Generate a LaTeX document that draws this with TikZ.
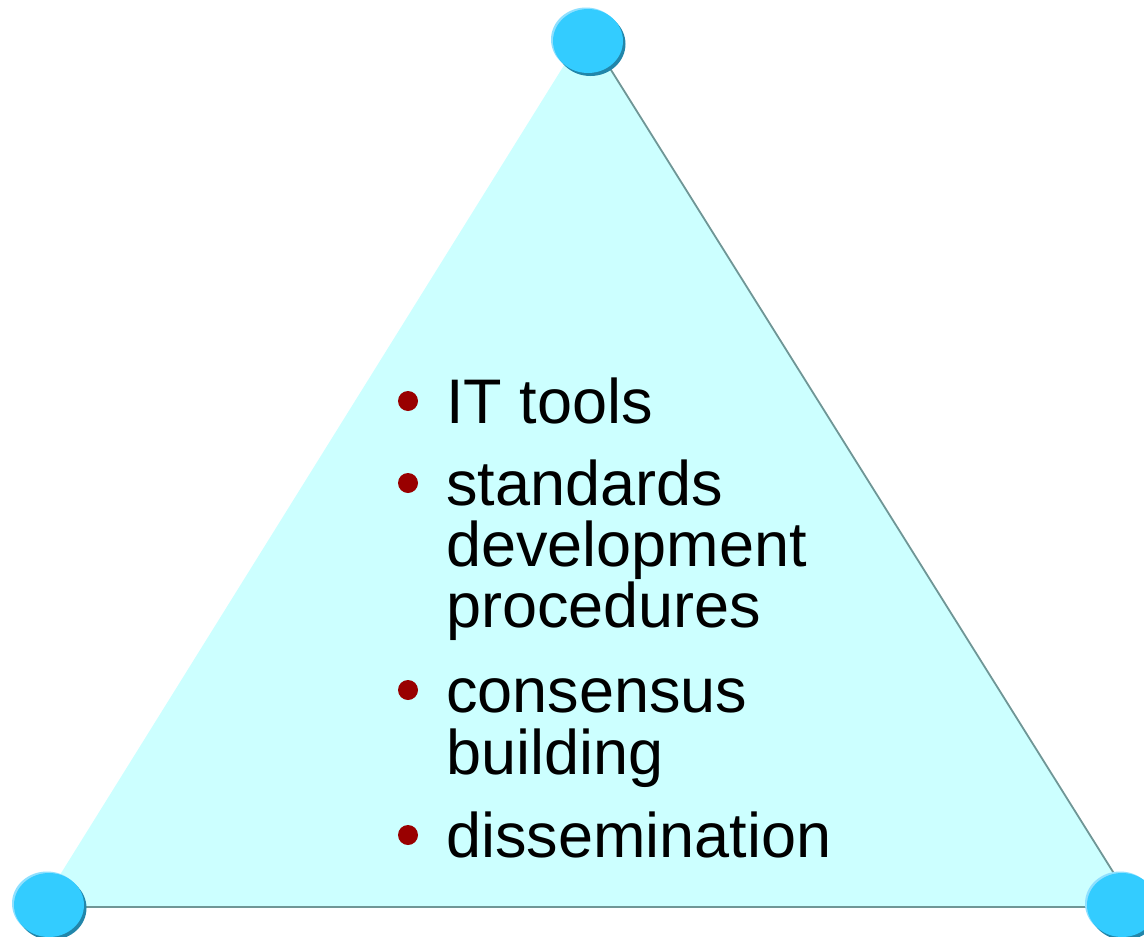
\documentclass[tikz,border=0pt]{standalone}
\usepackage{fontspec}
\setmainfont{Liberation Sans}
\definecolor{trifill}{HTML}{CCFFFF}
\definecolor{triedge}{HTML}{6F9696}
\definecolor{ballmain}{HTML}{33CCFF}
\definecolor{ballshadow}{HTML}{2286AA}
\definecolor{balllight}{HTML}{8FE0FF}
\definecolor{bulletred}{HTML}{990000}
\tikzset{
  ball/.style={ellipse, minimum width=70pt, minimum height=64pt, inner sep=0pt, fill=ballmain},
  itemtext/.style={anchor=base west, inner sep=0pt, font=\fontsize{63}{63}\selectfont},
  bulletdot/.style={circle, fill=bulletred, minimum size=20pt, inner sep=0pt},
}
\usetikzlibrary{shapes.geometric}
\begin{document}
\begin{tikzpicture}[x=1pt,y=-1pt]
\useasboundingbox (0,0) rectangle (1144,937);
% triangle corners
\coordinate (A) at (586,30);
\coordinate (B) at (40,907);
\coordinate (C) at (1135,907);
\fill[trifill] (A) -- (B) -- (C) -- cycle;
\draw[triedge, line width=1.8pt] (A) -- (C);
\draw[triedge, line width=1.8pt] (B) -- (C);
% balls
\foreach \n/\x/\y in {top/588/41, bl/49/905, br/1122/905}{
  \fill[balllight] (\x-2,\y-1.5) ellipse [x radius=35, y radius=32];
  \fill[ballshadow] (\x+2.5,\y+3) ellipse [x radius=35, y radius=32];
  \node[ball] (\n) at (\x,\y) {};
}
% bullets
\node[bulletdot] (b1) at (408,401) {};
\node[bulletdot] (b2) at (408,483) {};
\node[bulletdot] (b3) at (408,690) {};
\node[bulletdot] (b4) at (408,835) {};
% text
\node[itemtext] (t1) at (446,423) {IT tools};
\node[itemtext] (t2a) at (446,505) {standards};
\node[itemtext] (t2b) at (446,566) {development};
\node[itemtext] (t2c) at (446,627) {procedures};
\node[itemtext] (t3a) at (446,712) {consensus};
\node[itemtext] (t3b) at (446,774) {building};
\node[itemtext] (t4) at (446,857) {dissemination};
\end{tikzpicture}
\end{document}
